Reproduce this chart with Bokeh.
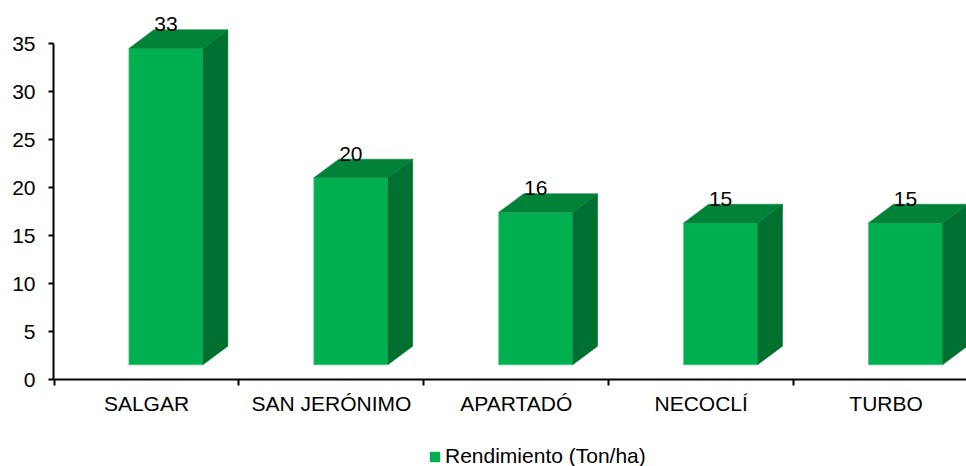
import numpy as np
from bokeh.plotting import figure
from bokeh.layouts import column
from bokeh.models import FixedTicker, Legend, LegendItem, ColumnDataSource, Range1d
from bokeh.embed import file_html
from bokeh.resources import INLINE

# ---- data ----
categories = ["SALGAR", "SAN JERÓNIMO", "APARTADÓ", "NECOCLÍ", "TURBO"]
rendimiento = [33.0, 19.5, 15.9, 14.8, 14.8]
y_ticks = [0, 5, 10, 15, 20, 25, 30, 35]
series_name = "Rendimiento (Ton/ha)"

# ---- style / geometry ----
FONT = "Liberation Sans"
FS = "21px"
FRONT = "#00B050"
TOP = "#008238"
SIDE = "#007030"
EDGE = "#4CC47C"
base = 1.53          # 3D floor offset (value units)
dx = 0.135           # depth, category units
dy = 1.95            # depth, value units
f_l, f_r = 0.405, 0.805

n = len(categories)
idx = np.arange(n)
vals = np.array(rendimiento, dtype=float)
left = idx + f_l
right = idx + f_r
bottom = np.full(n, base)
top = base + vals

front_src = ColumnDataSource(dict(left=left, right=right, bottom=bottom, top=top))
side_src = ColumnDataSource(dict(
    xs=[[r, r + dx, r + dx, r] for r in right],
    ys=[[base, base + dy, t + dy, t] for t in top]))
top_src = ColumnDataSource(dict(
    xs=[[l, l + dx, r + dx, r] for l, r in zip(left, right)],
    ys=[[t, t + dy, t + dy, t] for t in top]))
lab_src = ColumnDataSource(dict(
    x=(left + right) / 2,
    y=top + dy + 0.55,
    text=[str(int(np.floor(v + 0.5))) for v in vals]))

p = figure(width=966, height=440, title=None,
           x_range=Range1d(-0.003, 4.935), y_range=Range1d(0, 38.69),
           output_backend="svg", toolbar_location=None,
           min_border_left=53, min_border_right=0, min_border_top=8,
           min_border_bottom=61)
p.outline_line_color = None
p.xgrid.visible = False
p.ygrid.visible = False
p.background_fill_color = "white"
p.border_fill_color = "white"

front = p.quad(left="left", right="right", bottom="bottom", top="top", source=front_src,
               fill_color=FRONT, line_color=EDGE, line_width=1, line_alpha=0.7)
p.patches("xs", "ys", source=side_src, fill_color=SIDE, line_color=SIDE, line_width=0.5)
p.patches("xs", "ys", source=top_src, fill_color=TOP, line_color=TOP, line_width=0.5)
p.text(x="x", y="y", text="text", source=lab_src, text_align="center",
       text_baseline="alphabetic", text_font_size=FS, text_color="black",
       text_font={"value": FONT})

# y axis
ya = p.yaxis[0]
ya.ticker = FixedTicker(ticks=y_ticks, minor_ticks=[])
ya.bounds = (0, 35)
ya.axis_line_width = 2
ya.axis_line_color = "black"
ya.major_tick_out = 5
ya.major_tick_in = 0
ya.major_tick_line_width = 2
ya.minor_tick_out = 0
ya.minor_tick_in = 0
ya.major_label_standoff = 13
ya.major_label_text_font = FONT
ya.major_label_text_font_size = FS
ya.major_label_text_color = "black"

# x axis
xa = p.xaxis[0]
centers = [i + 0.5 for i in range(n)]
xa.ticker = FixedTicker(ticks=centers, minor_ticks=list(range(n + 1)))
xa.major_label_overrides = {c: cat for c, cat in zip(centers, categories)}
xa.axis_line_width = 2
xa.axis_line_color = "black"
xa.major_tick_out = 0
xa.major_tick_in = 0
xa.minor_tick_out = 6
xa.minor_tick_in = 0
xa.minor_tick_line_width = 2
xa.minor_tick_line_color = "black"
xa.major_label_standoff = 6
xa.major_label_text_font = FONT
xa.major_label_text_font_size = FS
xa.major_label_text_color = "black"

# legend strip (separate small figure so the legend is not clipped);
# the key renderer shares the bar data but lies outside this strip's view
p2 = figure(width=966, height=26, title=None, x_range=Range1d(0, 1), y_range=Range1d(-2, -1),
            output_backend="svg", toolbar_location=None,
            min_border_left=0, min_border_right=0, min_border_top=0, min_border_bottom=0)
p2.axis.visible = False
p2.grid.visible = False
p2.outline_line_color = None
p2.border_fill_color = "white"
key = p2.quad(left="left", right="right", bottom="bottom", top="top", source=front_src,
              fill_color=FRONT, line_color=None)
legend = Legend(items=[LegendItem(label=series_name, renderers=[key])],
                location=(375, -2), orientation="horizontal",
                glyph_width=13, glyph_height=13, label_standoff=4,
                padding=0, margin=0, spacing=0,
                border_line_alpha=0, background_fill_alpha=0,
                label_text_font=FONT, label_text_font_size=FS,
                label_text_color="black")
p2.add_layout(legend)

layout = column(p, p2, spacing=0)
open("out.html", "w").write(file_html(layout, INLINE))
